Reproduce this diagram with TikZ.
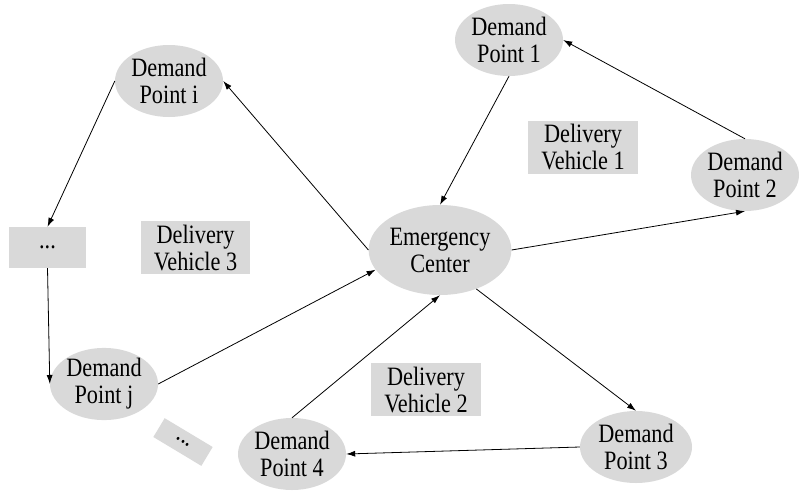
\documentclass[tikz,border=0pt]{standalone}
\usepackage{fontspec}
\setmainfont[FakeStretch=0.84]{Liberation Serif}
\usetikzlibrary{shapes.geometric,arrows.meta}
\definecolor{boxgray}{RGB}{217,217,217}
\begin{document}
\begin{tikzpicture}[x=1pt,y=-1pt,
  every node/.style={font=\fontsize{26.5}{27}\selectfont, align=center, inner sep=0pt},
  dpt/.style={ellipse, fill=boxgray, minimum width=108pt, minimum height=72pt},
  gbox/.style={rectangle, fill=boxgray},
  conn/.style={-{Latex[length=9pt,width=6pt]}, line width=0.8pt, black}
]
\useasboundingbox (0,0) rectangle (811,499);
\node[dpt] (dpi) at (169,81) {Demand\\Point i};
\node[dpt] (dp1) at (509,40) {Demand\\Point 1};
\node[dpt] (dp2) at (745,175) {Demand\\Point 2};
\node[dpt, minimum width=136pt, minimum height=90pt] (ec) at (440,250) {Emergency\\Center};
\node[dpt] (dpj) at (104,384) {Demand\\Point j};
\node[dpt] (dp4) at (292,454) {Demand\\Point 4};
\node[dpt, minimum width=112pt] (dp3) at (636,447) {Demand\\Point 3};
\node[gbox, minimum width=77pt, minimum height=41pt] (dots1) at (47.5,247.5) {...};
\node[gbox, minimum width=109pt, minimum height=53pt] (dv3) at (195.5,247.5) {Delivery\\Vehicle 3};
\node[gbox, minimum width=110pt, minimum height=53pt] (dv1) at (583,147.5) {Delivery\\Vehicle 1};
\node[gbox, minimum width=110pt, minimum height=53pt] (dv2) at (426,389.5) {Delivery\\Vehicle 2};
\node[gbox, minimum width=56pt, minimum height=22pt, rotate=-31] (dots2) at (183,442) {...};
\draw[conn] (dpi.west) -- (dots1.north);
\draw[conn] (dots1.south) -- (dpj.west);
\draw[conn] (dpj.east) -- (ec.197);
\draw[conn] (ec.west) -- (dpi.east);
\draw[conn] (dp1.south) -- (ec.north);
\draw[conn] (dp2.north) -- (dp1.east);
\draw[conn] (ec.east) -- (dp2.south);
\draw[conn] (ec.-47) -- (dp3.north);
\draw[conn] (dp3.west) -- (dp4.east);
\draw[conn] (dp4.north) -- (ec.south);
\end{tikzpicture}
\end{document}
